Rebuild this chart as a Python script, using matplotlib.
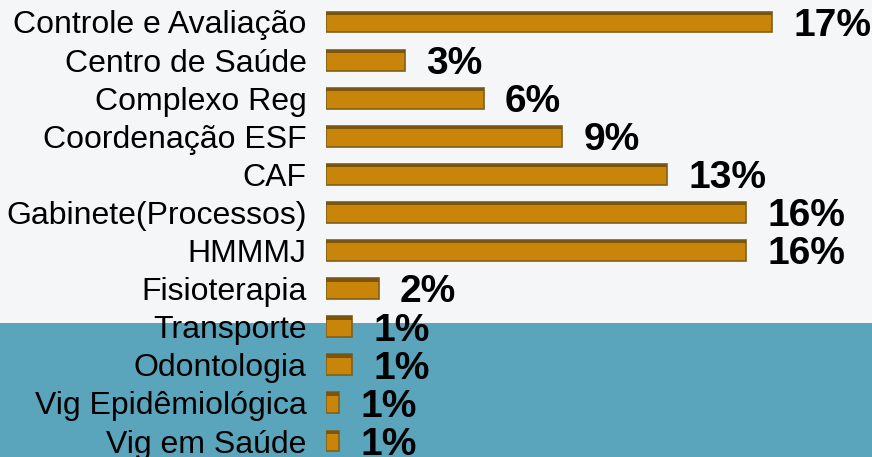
import matplotlib
matplotlib.use('Agg')
import matplotlib.pyplot as plt
from matplotlib.patches import Rectangle

# setores e percentuais
categorias = ['Controle e Avaliação', 'Centro de Saúde', 'Complexo Reg', 'Coordenação ESF',
              'CAF', 'Gabinete(Processos)', 'HMMMJ', 'Fisioterapia', 'Transporte',
              'Odontologia', 'Vig Epidêmiológica', 'Vig em Saúde']
valores = [17, 3, 6, 9, 13, 16, 16, 2, 1, 1, 0.5, 0.5]
rotulos = ['17%', '3%', '6%', '9%', '13%', '16%', '16%', '2%', '1%', '1%', '1%', '1%']

plt.rcParams['font.family'] = ['Liberation Sans', 'DejaVu Sans']

fig = plt.figure(figsize=(8.72, 4.57), dpi=100)
fig.patch.set_facecolor('#f5f6f8')
# faixa azul na parte de baixo
fig.patches.append(Rectangle((0, 0), 1, (457 - 323) / 457, transform=fig.transFigure,
                             facecolor='#5aa5bc', edgecolor='none', zorder=-5))

ax = fig.add_axes([326 / 872, 0, 546 / 872, 1])
ax.patch.set_alpha(0)

y = list(range(len(categorias)))
ax.barh(y, valores, height=0.55, color='#c8850a', edgecolor='#80601a', linewidth=1.2, zorder=2)
# borda superior escura (efeito 3D)
ax.barh([i - 0.23 for i in y], valores, height=0.09, color='#7a5510', linewidth=0, zorder=3)

px = 20.8 / 546  # unidades por pixel
for i, (v, r) in enumerate(zip(valores, rotulos)):
    ax.text(v + 21 * px, i + 0.1, r, fontsize=28, fontweight='bold', va='center', ha='left')

ax.set_xlim(0, 20.8)
ax.set_ylim(11 + 16 / 38.1, -22 / 38.1)
ax.set_yticks(y)
ax.set_yticklabels(categorias, fontsize=23)
ax.tick_params(axis='y', length=0, pad=14)
ax.set_xticks([])
for s in ax.spines.values():
    s.set_visible(False)

fig.savefig('out.png', dpi=100, facecolor=fig.get_facecolor())
